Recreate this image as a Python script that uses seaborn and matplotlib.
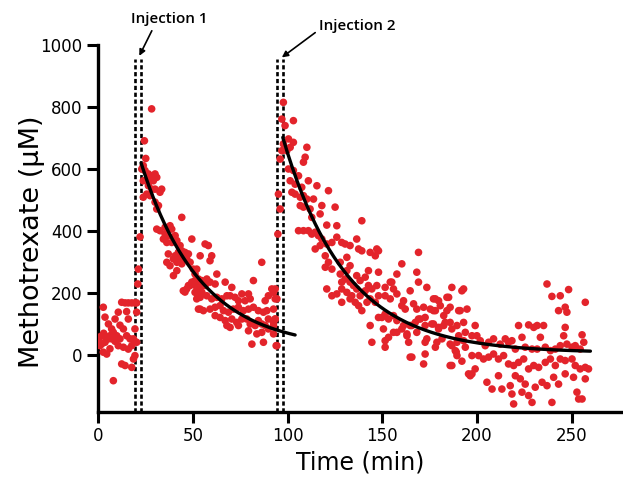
import matplotlib
matplotlib.use("Agg")
import matplotlib.pyplot as plt
import seaborn as sns
import numpy as np
import pandas as pd

sns.set_style("ticks")
plt.rcParams["font.family"] = ["DejaVu Sans"]
plt.rcParams["text.color"] = "black"
plt.rcParams["axes.labelcolor"] = "black"
plt.rcParams["xtick.color"] = "black"
plt.rcParams["ytick.color"] = "black"
plt.rcParams["axes.edgecolor"] = "black"

# ---------------- data (time in min, methotrexate in uM) ----------------
baseline_points = [
    (0.5, 40), (1.0, 30), (1.5, 60), (1.9, 35), (2.8, 154), (2.8, 9), (3.0, 70),
    (3.7, 122), (3.7, 41), (4.6, 52), (4.6, 3), (5.5, 52), (5.5, 100), (6.3, 62),
    (6.3, 20), (7.2, 84), (7.2, 52), (8.1, 73), (8.1, -83), (9.0, 116), (9.0, 44),
    (9.9, 62), (10.7, 138), (10.7, 30), (11.6, 52), (11.6, 96), (12.5, 170),
    (12.5, -29), (13.4, 84), (13.4, 25), (14.3, 168), (14.3, -34), (15.1, 62),
    (15.1, 140), (16.0, 168), (16.0, 116), (16.0, 19), (16.9, 52), (17.8, 168),
    (17.8, -40), (17.8, 30), (18.7, 52), (18.7, -13), (19.5, 168), (19.5, -2),
    (19.5, 84), (20.4, 168), (20.4, 138), (20.4, 41), (21.0, 229), (21.3, 277),
    (22.2, 381),
]

dose1_early = [
    (28.3, 794), (24.5, 691), (25.2, 634), (23.9, 611), (23.1, 600), (24.8, 595),
    (26.6, 584), (28.4, 578), (30.1, 584), (31.0, 573), (29.2, 562), (27.5, 568),
    (25.7, 562), (23.9, 562), (26.6, 546), (28.4, 535), (30.1, 535), (33.6, 535),
    (32.7, 525), (25.7, 519), (23.9, 509), (27.5, 514), (30.1, 493), (31.9, 482),
    (31.0, 471), (44.2, 444), (31.0, 406), (32.7, 401), (35.4, 412), (38.0, 417),
    (38.9, 406), (35.4, 390), (37.1, 385), (40.7, 385), (34.5, 374), (36.3, 363),
    (38.9, 363), (41.6, 369), (43.3, 353), (44.2, 336), (45.9, 331), (47.7, 326),
    (42.4, 331), (40.7, 320), (39.8, 310), (37.1, 326), (36.3, 299), (38.0, 288),
    (41.6, 299), (43.3, 310), (45.0, 320), (46.8, 310), (48.6, 299), (44.2, 294),
    (41.6, 272), (39.8, 256), (49.5, 374), (50.3, 277), (51.2, 261), (45.0, 207),
    (46.8, 213), (48.6, 224), (50.3, 229), (51.2, 240), (52.1, 218), (51.2, 202),
    (53.0, 191), (52.1, 181), (53.9, 148), (45.9, 203), (47.7, 224), (49.5, 235),
    (53.0, 213), (54.8, 202),
]

dose1_late = [
    (56.5, 358), (58.2, 353), (53.9, 320), (60.0, 320), (59.1, 304), (52.1, 277),
    (62.7, 261), (53.0, 245), (54.8, 240), (57.4, 245), (59.1, 235), (56.5, 224),
    (53.9, 218), (52.1, 224), (67.1, 235), (70.6, 218), (61.8, 229), (54.8, 197),
    (53.9, 186), (57.4, 191), (60.0, 181), (62.7, 186), (65.3, 181), (68.0, 191),
    (69.7, 191), (72.3, 186), (75.9, 197), (79.4, 197), (80.3, 181), (77.6, 175),
    (74.1, 175), (86.4, 299), (82.0, 240), (91.7, 213), (92.6, 202), (89.9, 191),
    (88.2, 175), (93.5, 181), (53.0, 148), (55.6, 143), (59.1, 148), (61.8, 154),
    (64.4, 159), (66.2, 143), (68.8, 138), (71.4, 148), (74.1, 154), (76.7, 143),
    (79.4, 148), (82.0, 154), (84.6, 143), (87.3, 138), (89.1, 143), (61.8, 127),
    (64.4, 121), (67.1, 111), (70.6, 116), (73.2, 105), (75.9, 116), (78.5, 116),
    (80.3, 100), (82.9, 95), (84.6, 111), (86.4, 100), (88.2, 95), (89.9, 116),
    (92.6, 105), (93.5, 116), (68.0, 95), (69.7, 89), (74.1, 95), (79.4, 78),
    (83.8, 68), (86.4, 73), (89.9, 84), (92.6, 68), (81.2, 35), (87.3, 41),
    (94.4, 30), (95.2, 519), (96.1, 471), (94.9, 390), (93.5, 213), (94.4, 181),
    (92.6, 148), (93.5, 116), (92.6, 95), (94.0, 30),
]

dose2_early = [
    (97.8, 815), (97.0, 761), (103.1, 756), (98.7, 740), (100.5, 697), (103.1, 686),
    (97.8, 681), (101.4, 670), (99.6, 659), (97.0, 659), (96.1, 632), (110.2, 670),
    (109.3, 638), (108.4, 622), (100.5, 600), (103.1, 595), (105.8, 578),
    (107.5, 541), (101.4, 562), (104.0, 551), (102.3, 525), (104.0, 519),
    (111.0, 562), (115.5, 546), (121.6, 530), (108.4, 514), (106.7, 509),
    (110.2, 503), (106.7, 482), (108.4, 477), (111.9, 471), (113.7, 503),
    (118.1, 482), (125.1, 477), (117.2, 455), (112.8, 444), (120.7, 419),
    (126.0, 417), (105.8, 401), (108.4, 401), (111.0, 401), (112.8, 390),
    (114.6, 396), (116.3, 385), (118.1, 374), (120.7, 358), (123.4, 363),
    (126.0, 380), (128.6, 363), (130.4, 358), (133.0, 353), (136.5, 374),
    (139.2, 433), (114.6, 342), (117.2, 353), (119.9, 320), (121.6, 299),
    (119.9, 283), (123.4, 277), (127.8, 299), (131.3, 315), (133.0, 288),
    (131.3, 272), (137.5, 342), (139.2, 336), (143.6, 331), (146.3, 320),
    (147.1, 342), (127.8, 261), (130.4, 245), (128.6, 235), (133.0, 235),
    (134.8, 224), (136.5, 256), (138.3, 240), (141.0, 251), (142.7, 272),
    (128.6, 213), (131.3, 202), (133.9, 191), (136.5, 213), (138.3, 191),
    (141.0, 207), (142.7, 224), (144.5, 213), (147.1, 224), (148.0, 191),
    (120.7, 213), (123.4, 191), (126.0, 197), (128.6, 170), (133.0, 181),
    (135.7, 170), (137.5, 159), (139.2, 143), (141.9, 170), (143.6, 181),
    (146.3, 170), (148.0, 121), (143.6, 95), (144.5, 41),
]

dose2_mid = [
    (169.1, 331), (160.3, 294), (168.2, 267), (157.7, 261), (169.1, 235),
    (173.5, 218), (154.2, 235), (151.5, 218), (155.9, 213), (151.5, 191),
    (154.2, 181), (157.7, 197), (161.2, 175), (164.7, 207), (177.0, 181),
    (179.7, 175), (184.1, 186), (186.7, 218), (192.0, 207), (160.3, 159),
    (162.1, 148), (166.5, 165), (168.2, 148), (171.8, 154), (175.3, 148),
    (178.0, 143), (180.6, 159), (182.4, 127), (185.8, 154), (191.1, 143),
    (194.7, 148), (151.5, 132), (153.3, 116), (155.9, 127), (157.7, 111),
    (161.2, 95), (164.7, 95), (167.4, 105), (170.0, 116), (172.6, 95),
    (177.0, 100), (179.7, 89), (182.4, 95), (185.8, 105), (189.4, 95),
    (192.9, 105), (151.5, 46), (153.3, 57), (157.7, 73), (163.0, 68), (168.2, 73),
    (173.5, 52), (178.8, 41), (181.5, 52), (185.8, 35), (189.4, 41), (192.9, 46),
    (150.6, 84), (165.6, -7), (172.6, 3), (171.8, -29), (185.8, -34), (189.4, -2),
    (195.5, -61), (148.0, 336), (148.0, 267), (155.0, 235), (192.9, 213),
    (178.0, 181), (185.0, 186), (190.3, 143), (177.0, 143), (184.1, 143),
    (149.8, 121), (155.9, 73), (160.3, 84), (163.0, 62), (165.6, 95), (169.1, 116),
    (172.6, 121), (176.1, 100), (179.7, 84), (183.2, 105), (186.7, 84), (190.3, 62),
    (193.8, 73), (197.3, 62), (199.0, 95), (151.5, 25), (163.9, 41), (172.6, 41),
    (178.0, 25), (186.7, 30), (188.5, 14), (193.8, 25), (197.3, -2), (164.7, -7),
    (186.7, -34), (197.3, -61), (196.4, -67), (192.0, -20), (189.0, 10),
    (199.0, -45),
]

dose2_late = [
    (236.9, 229), (239.5, 189), (243.9, 191), (248.3, 211), (257.1, 170),
    (243.0, 143), (246.5, 154), (247.4, 138), (221.9, 95), (227.2, 97), (229.9, 89),
    (231.7, 95), (235.1, 95), (246.5, 89), (255.4, 65), (223.7, 57), (233.4, 57),
    (245.7, 62), (256.3, 41), (199.9, 62), (201.7, 46), (204.3, 30),
    (206.1, 41), (208.7, 52), (212.2, 35), (214.9, 52), (216.6, 41), (218.4, 46),
    (220.2, 19), (225.4, 25), (229.0, 19), (231.7, 19), (236.0, 25), (238.7, 14),
    (241.3, 19), (243.9, 30), (247.4, 35), (250.1, 25), (251.8, 30), (254.4, 19),
    (200.8, -2), (203.4, -13), (206.1, -7), (208.7, 3), (211.3, -13), (214.0, -2),
    (216.6, -29), (219.3, -34), (221.9, -24), (224.6, -13), (227.2, -45),
    (229.9, -34), (232.5, -40), (236.0, -24), (238.7, -13), (241.3, -34),
    (243.9, -13), (246.5, -18), (250.1, -13), (251.8, -34), (254.4, -45),
    (257.1, -40), (258.8, -45), (205.2, -88), (207.9, -110), (211.3, -67),
    (213.1, -110), (217.5, -99), (220.2, -67), (222.8, -77), (225.4, -94),
    (223.7, -120), (218.4, -126), (227.2, -131), (230.7, -104), (234.3, -88),
    (236.9, -99), (240.4, -72), (243.0, -94), (246.5, -61), (250.9, -72),
    (252.7, -120), (257.1, -77), (255.4, -142), (219.3, -158), (229.0, -153),
    (239.5, -153), (253.6, -142),
]

# injection markers (min) and their labels
injection_lines = [[19.6, 22.7], [94.3, 97.6]]
injection_labels = ["Injection 1", "Injection 2"]
injection_top = 955

# fitted mono-exponential decays: start, end, amplitude, rate, plateau
fit_params = [
    dict(t0=22.7, t1=104.0, A=600.0, k=0.032, C=20.0),
    dict(t0=97.5, t1=259.8, A=695.0, k=0.030, C=7.0),
]

x_ticks = [0, 50, 100, 150, 200, 250]
y_ticks = [0, 200, 400, 600, 800, 1000]

# ---------------- plotting ----------------
all_pts = baseline_points + dose1_early + dose1_late + dose2_early + dose2_mid + dose2_late
df = pd.DataFrame(all_pts, columns=["t", "v"])

fig = plt.figure(figsize=(6.23, 4.92), dpi=100)
ax = fig.add_axes([0.1573, 0.1626, 0.8427, 0.7459])

ymin, ymax = -184, 1000
for pair in injection_lines:
    for xv in pair:
        ax.plot([xv, xv], [ymin, injection_top], color="black", lw=1.9,
                linestyle=(0, (1.6, 1.0)), zorder=2, solid_capstyle="butt",
                dash_capstyle="butt")

sns.scatterplot(data=df, x="t", y="v", color="#E3242B", s=30, edgecolor="none",
                linewidth=0, ax=ax, zorder=3, legend=False)

for p in fit_params:
    tt = np.linspace(p["t0"], p["t1"], 200)
    yy = p["A"] * np.exp(-p["k"] * (tt - p["t0"])) + p["C"]
    sns.lineplot(x=tt, y=yy, color="black", lw=2.4, ax=ax, zorder=4)

ax.set_xlim(0, 277)
ax.set_ylim(ymin, ymax)
ax.set_xticks(x_ticks)
ax.set_yticks(y_ticks)
ax.tick_params(axis="both", width=2.2, length=8, labelsize=12, pad=3,
               color="black", labelcolor="black")
for s in ["top", "right"]:
    ax.spines[s].set_visible(False)
for s in ["left", "bottom"]:
    ax.spines[s].set_linewidth(2.4)
    ax.spines[s].set_color("black")
ax.set_xlabel("Time (min)", fontsize=17, labelpad=4, color="black")
ax.set_ylabel("Methotrexate (\u00b5M)", fontsize=19.5, color="black")
ax.yaxis.set_label_coords(-0.10, 0.465)

# annotations
text_pos = [(37.5, 1084), (137.0, 1061)]
arrow_tail = [(28.4, 1046), (114.6, 1040)]
arrow_head = [(21.8, 965), (97.0, 960)]
for lab, tp, at, ah in zip(injection_labels, text_pos, arrow_tail, arrow_head):
    ax.text(tp[0], tp[1], lab, ha="center", va="center", fontsize=11,
            fontweight="semibold", family=["Open Sans", "DejaVu Sans"],
            color="black", clip_on=False)
    ax.annotate("", xy=ah, xytext=at, annotation_clip=False,
                arrowprops=dict(arrowstyle="-|>", color="black", lw=1.2,
                                mutation_scale=9, shrinkA=0, shrinkB=0))

fig.savefig("out.png", dpi=100)
